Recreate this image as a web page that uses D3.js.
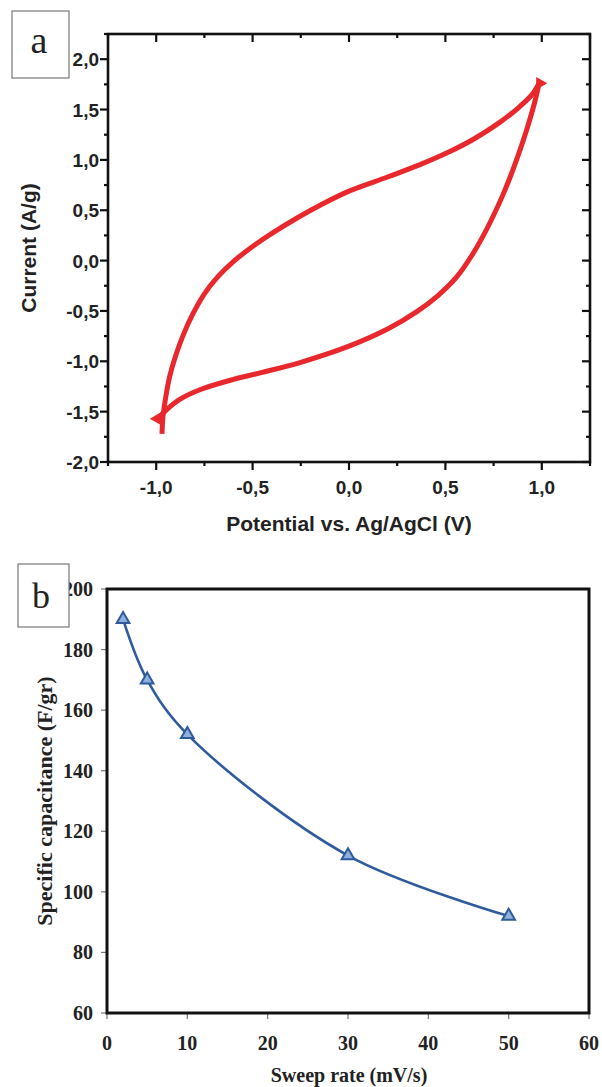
<!DOCTYPE html>
<html>
<head>
<meta charset="utf-8">
<script src="https://cdn.jsdelivr.net/npm/d3@7"></script>
<style>
  body { margin: 0; background: #fff; }
  svg { display: block; }
  .sans text { font-family: "Liberation Sans", Arial, sans-serif; font-weight: bold; }
  .serif text { font-family: "Liberation Serif", "Times New Roman", serif; font-weight: bold; }
</style>
</head>
<body>
<svg id="chart" width="602" height="1087"></svg>
<script>
// panel a: cyclic voltammogram, anodic (upper) and cathodic (lower) branches
var fwdPotential = [-0.97, -0.965, -0.95, -0.93, -0.90, -0.86, -0.81, -0.75, -0.68, -0.60, -0.50, -0.40, -0.254, -0.15, 0.0, 0.2, 0.365, 0.52, 0.65, 0.78, 0.88, 0.95, 0.985];
var fwdCurrent   = [-1.72, -1.55, -1.35, -1.15, -0.95, -0.74, -0.53, -0.33, -0.16, -0.01, 0.14, 0.27, 0.44, 0.55, 0.69, 0.83, 0.95, 1.08, 1.21, 1.37, 1.52, 1.65, 1.76];
var revPotential = [0.985, 0.96, 0.92, 0.88, 0.84, 0.80, 0.75, 0.70, 0.64, 0.56, 0.46, 0.35, 0.2, 0.0, -0.25, -0.45, -0.6, -0.77, -0.88, -0.94, -0.99];
var revCurrent   = [1.75, 1.55, 1.29, 1.06, 0.85, 0.66, 0.45, 0.26, 0.06, -0.16, -0.35, -0.51, -0.68, -0.85, -1.01, -1.11, -1.18, -1.28, -1.38, -1.47, -1.57];
var aTicksX = [-1.0, -0.5, 0.0, 0.5, 1.0];
var aTicksY = [-2.0, -1.5, -1.0, -0.5, 0.0, 0.5, 1.0, 1.5, 2.0];

// panel b: specific capacitance vs sweep rate
var sweepRate = [2, 5, 10, 30, 50];
var capacitance = [190, 170, 152, 112, 92];
var bTicksX = [0, 10, 20, 30, 40, 50, 60];
var bTicksY = [60, 80, 100, 120, 140, 160, 180, 200];

var svg = d3.select('#chart');
var comma = d3.formatLocale({decimal: ',', thousands: '.', grouping: [3], currency: ['', ''], minus: '-'}).format('.1f');

// ---------- panel a ----------
var ga = svg.append('g').attr('class', 'sans');
var xa = d3.scaleLinear().domain([-1.25, 1.25]).range([108, 590]);
var ya = d3.scaleLinear().domain([-2, 2.25]).range([462, 34]);
var minorX = d3.range(-1.25, 1.26, 0.25).filter(v => Math.abs(v * 2 - Math.round(v * 2)) > 0.01);
var minorY = d3.range(-1.75, 2.26, 0.5);

function tickRow(g, scale, vals, len, side, pos) {
  vals.forEach(v => {
    var p = scale(v);
    if (side === 'x') g.append('line').attr('x1', p).attr('x2', p).attr('y1', pos).attr('y2', pos + len);
    else g.append('line').attr('y1', p).attr('y2', p).attr('x1', pos).attr('x2', pos + len);
  });
}

var ta = ga.append('g').attr('stroke', '#111').attr('stroke-width', 2.2);
tickRow(ta, xa, aTicksX, 8, 'x', 462);   // bottom, outward
tickRow(ta, xa, minorX, 4, 'x', 462);
tickRow(ta, xa, aTicksX, 8, 'x', 34);    // top, inward
tickRow(ta, xa, minorX, 4, 'x', 34);
tickRow(ta, ya, aTicksY, -8, 'y', 108);  // left, outward
tickRow(ta, ya, minorY, -4, 'y', 108);
tickRow(ta, ya, aTicksY, -8, 'y', 590);  // right, inward
tickRow(ta, ya, minorY, -4, 'y', 590);

ga.append('rect').attr('x', 108).attr('y', 34).attr('width', 482).attr('height', 428)
  .attr('fill', 'none').attr('stroke', '#111').attr('stroke-width', 2.6);

ga.append('g').selectAll('text').data(aTicksX).enter().append('text')
  .attr('x', d => xa(d)).attr('y', 494).attr('text-anchor', 'middle')
  .attr('font-size', 19).attr('fill', '#222').text(d => comma(d));
ga.append('g').selectAll('text').data(aTicksY).enter().append('text')
  .attr('x', 99).attr('y', d => ya(d) + 7).attr('text-anchor', 'end')
  .attr('font-size', 19).attr('fill', '#222').text(d => comma(d));

ga.append('text').attr('x', 349).attr('y', 531).attr('text-anchor', 'middle')
  .attr('font-size', 21).attr('fill', '#222').text('Potential vs. Ag/AgCl (V)');
ga.append('text').attr('transform', 'translate(36,248) rotate(-90)').attr('text-anchor', 'middle')
  .attr('font-size', 21).attr('fill', '#222').text('Current (A/g)');

var cvLine = d3.line().x(d => xa(d[0])).y(d => ya(d[1])).curve(d3.curveCatmullRom);
var red = '#e8282c';
ga.append('path').datum(d3.zip(fwdPotential, fwdCurrent)).attr('d', cvLine)
  .attr('fill', 'none').attr('stroke', red).attr('stroke-width', 5);
ga.append('path').datum(d3.zip(revPotential, revCurrent)).attr('d', cvLine)
  .attr('fill', 'none').attr('stroke', red).attr('stroke-width', 5);
var tri = d3.symbol().type(d3.symbolTriangle).size(70);
ga.append('path').attr('d', tri).attr('fill', red)
  .attr('transform', 'translate(' + xa(0.99) + ',' + ya(1.76) + ') rotate(90)');
ga.append('path').attr('d', tri).attr('fill', red)
  .attr('transform', 'translate(' + xa(-0.995) + ',' + ya(-1.57) + ') rotate(-90)');

ga.append('rect').attr('x', 12).attr('y', 11).attr('width', 57).attr('height', 67)
  .attr('fill', '#fff').attr('stroke', '#777').attr('stroke-width', 1.2);
ga.append('text').attr('x', 39).attr('y', 53).attr('text-anchor', 'middle')
  .style('font-family', '"Liberation Serif", serif').style('font-weight', 'normal')
  .attr('font-size', 38).attr('fill', '#222').text('a');

// ---------- panel b ----------
var gb = svg.append('g').attr('class', 'serif');
var xb = d3.scaleLinear().domain([0, 60]).range([107, 589]);
var yb = d3.scaleLinear().domain([60, 200]).range([1013, 589]);

var tb = gb.append('g').attr('stroke', '#777').attr('stroke-width', 1.2);
tickRow(tb, xb, bTicksX, 6, 'x', 1013);
tickRow(tb, yb, bTicksY, -6, 'y', 107);

gb.append('rect').attr('x', 107).attr('y', 589).attr('width', 482).attr('height', 424)
  .attr('fill', 'none').attr('stroke', '#111').attr('stroke-width', 3);

gb.append('g').selectAll('text').data(bTicksX).enter().append('text')
  .attr('x', d => xb(d)).attr('y', 1050).attr('text-anchor', 'middle')
  .attr('font-size', 20).attr('fill', '#222').text(d => d);
gb.append('g').selectAll('text').data(bTicksY).enter().append('text')
  .attr('x', 93).attr('y', d => yb(d) + 7).attr('text-anchor', 'end')
  .attr('font-size', 20).attr('fill', '#222').text(d => d);

gb.append('text').attr('x', 349).attr('y', 1082).attr('text-anchor', 'middle')
  .attr('font-size', 20).attr('fill', '#222').text('Sweep rate (mV/s)');
gb.append('text').attr('transform', 'translate(52,801) rotate(-90)').attr('text-anchor', 'middle')
  .attr('font-size', 22).attr('fill', '#222').text('Specific capacitance (F/gr)');

var blue = '#2f5b9c';
var capLine = d3.line().x(d => xb(d[0])).y(d => yb(d[1])).curve(d3.curveCatmullRom);
gb.append('path').datum(d3.zip(sweepRate, capacitance)).attr('d', capLine)
  .attr('fill', 'none').attr('stroke', blue).attr('stroke-width', 2.6);
gb.append('g').selectAll('path').data(d3.zip(sweepRate, capacitance)).enter().append('path')
  .attr('d', d3.symbol().type(d3.symbolTriangle).size(70))
  .attr('transform', d => 'translate(' + xb(d[0]) + ',' + yb(d[1]) + ')')
  .attr('fill', '#8fb0dc').attr('stroke', blue).attr('stroke-width', 2);

gb.append('rect').attr('x', 18).attr('y', 564).attr('width', 51).attr('height', 63)
  .attr('fill', '#fff').attr('stroke', '#777').attr('stroke-width', 1.2);
gb.append('text').attr('x', 41).attr('y', 608).attr('text-anchor', 'middle')
  .style('font-weight', 'normal').attr('font-size', 36).attr('fill', '#222').text('b');
</script>
</body>
</html>
